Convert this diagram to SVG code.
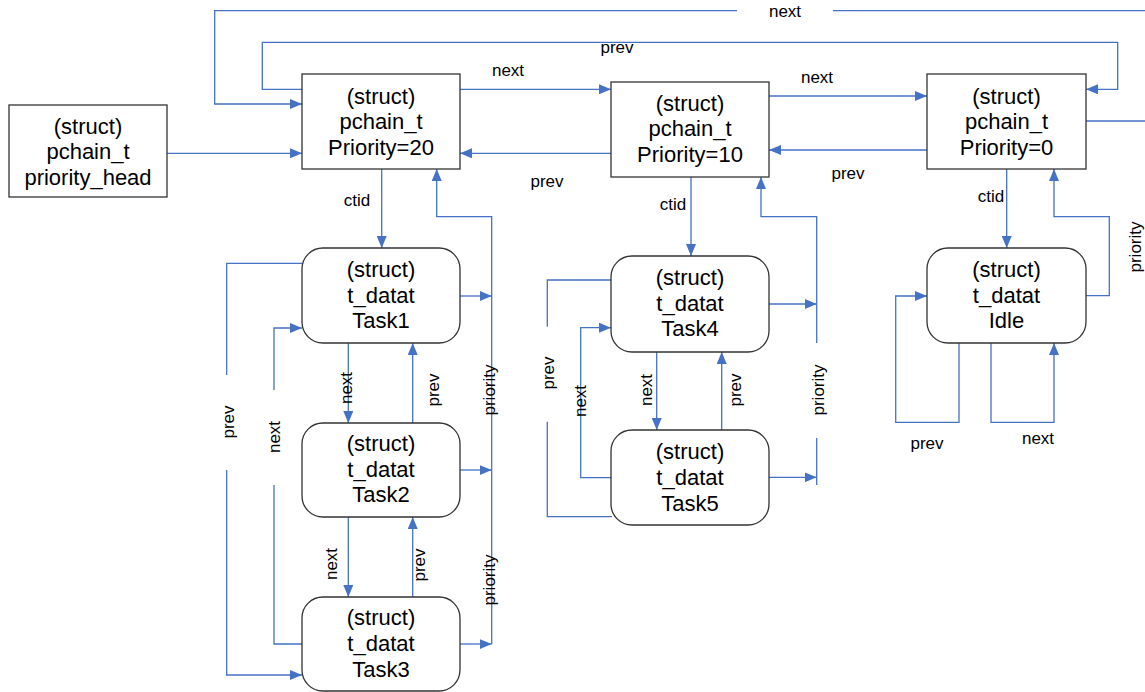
<svg xmlns="http://www.w3.org/2000/svg" width="1145" height="692" viewBox="0 0 1145 692">
<style>
.box{fill:#fff;stroke:#333;stroke-width:1.3}
.t{font-family:"Liberation Sans",Arial,sans-serif;font-size:22px;fill:#000;text-anchor:middle}
.c{fill:none;stroke:#4472C4;stroke-width:1.3}
.a{marker-end:url(#ah)}
.l{font-family:"Liberation Sans",Arial,sans-serif;font-size:17px;fill:#000;text-anchor:middle}
</style>
<defs>
<marker id="ah" markerUnits="userSpaceOnUse" markerWidth="12" markerHeight="10" refX="12" refY="5" orient="auto">
<path d="M0,0 L12,5 L0,10 z" fill="#4472C4"/>
</marker>
</defs>
<g id="connectors">
<path class="c" d="M1086,121 H1145"/>
<path class="c" d="M1145,10.7 H833"/>
<path class="c a" d="M737,10.7 H214.7 V104 H302"/>
<path class="c a" d="M302,89.3 H262.3 V42.3 H1117.7 V89.3 H1086"/>
<path class="c a" d="M460,89.3 H611"/>
<path class="c a" d="M611,153.3 H460"/>
<path class="c a" d="M769,96 H927"/>
<path class="c a" d="M927,150 H769"/>
<path class="c a" d="M167,153.3 H302"/>
<path class="c a" d="M381.7,169 V248"/>
<path class="c a" d="M460,296 H491.7"/>
<path class="c a" d="M460,470 H491.7"/>
<path class="c a" d="M460,644 H491.7"/>
<path class="c a" d="M491.7,644 V216.7 H436.7 V169"/>
<path class="c a" d="M348.3,343 V423"/>
<path class="c a" d="M348.3,517 V597"/>
<path class="c a" d="M412.7,423 V343"/>
<path class="c a" d="M412.7,597 V517"/>
<path class="c" d="M302,263.3 H226.7 V375"/>
<path class="c a" d="M226.7,470 V675 H302"/>
<path class="c" d="M302,644 H274 V485"/>
<path class="c a" d="M274,390 V328 H302"/>
<path class="c a" d="M691,177 V256"/>
<path class="c a" d="M769,304 H816.7"/>
<path class="c a" d="M769,477.3 H816.7"/>
<path class="c" d="M816.7,485 V438"/>
<path class="c a" d="M816.7,343 V216.7 H761 V177"/>
<path class="c a" d="M656.7,352 V430"/>
<path class="c a" d="M721.7,430 V352"/>
<path class="c" d="M611,280 H547.3 V326.7"/>
<path class="c" d="M547.3,421.7 V516.7 H612"/>
<path class="c a" d="M611,477.7 H580.7 V327.7 H611"/>
<path class="c a" d="M1006.7,169 V248"/>
<path class="c a" d="M1086,295.7 H1109.3 V216.7 H1054 V169"/>
<path class="c a" d="M959,343 V422.3 H895.7 V296 H927"/>
<path class="c a" d="M991,343 V422.3 H1054 V343"/>
</g>
<g id="labels">
<text class="l" x="785" y="17">next</text>
<text class="l" x="617" y="53">prev</text>
<text class="l" x="508" y="76">next</text>
<text class="l" x="547" y="187">prev</text>
<text class="l" x="817" y="83">next</text>
<text class="l" x="848" y="179">prev</text>
<text class="l" x="357" y="206">ctid</text>
<text class="l" x="673" y="210">ctid</text>
<text class="l" x="991" y="202">ctid</text>
<text class="l" transform="translate(346,388) rotate(-90)" y="6">next</text>
<text class="l" transform="translate(433,390) rotate(-90)" y="6">prev</text>
<text class="l" transform="translate(331,564) rotate(-90)" y="6">next</text>
<text class="l" transform="translate(419,565) rotate(-90)" y="6">prev</text>
<text class="l" transform="translate(489,390) rotate(-90)" y="6">priority</text>
<text class="l" transform="translate(489,580) rotate(-90)" y="6">priority</text>
<text class="l" transform="translate(228,422) rotate(-90)" y="6">prev</text>
<text class="l" transform="translate(274,437) rotate(-90)" y="6">next</text>
<text class="l" transform="translate(646,390) rotate(-90)" y="6">next</text>
<text class="l" transform="translate(735,390) rotate(-90)" y="6">prev</text>
<text class="l" transform="translate(818,390) rotate(-90)" y="6">priority</text>
<text class="l" transform="translate(548,373) rotate(-90)" y="6">prev</text>
<text class="l" transform="translate(580,401) rotate(-90)" y="6">next</text>
<text class="l" transform="translate(1135,247) rotate(-90)" y="6">priority</text>
<text class="l" x="927" y="449">prev</text>
<text class="l" x="1038" y="444">next</text>
</g>
<g id="priority_head">
<rect class="box" x="9" y="105" width="158" height="92"/>
<text class="t" x="88" y="134">(struct)</text>
<text class="t" x="88" y="159">pchain_t</text>
<text class="t" x="88" y="185">priority_head</text>
</g>
<g id="p20">
<rect class="box" x="302" y="74" width="158" height="95"/>
<text class="t" x="381" y="104">(struct)</text>
<text class="t" x="381" y="129">pchain_t</text>
<text class="t" x="381" y="155">Priority=20</text>
</g>
<g id="p10">
<rect class="box" x="611" y="82" width="158" height="95"/>
<text class="t" x="690" y="111">(struct)</text>
<text class="t" x="690" y="136">pchain_t</text>
<text class="t" x="690" y="162">Priority=10</text>
</g>
<g id="p0">
<rect class="box" x="927" y="74" width="159" height="95"/>
<text class="t" x="1006.5" y="104">(struct)</text>
<text class="t" x="1006.5" y="129">pchain_t</text>
<text class="t" x="1006.5" y="155">Priority=0</text>
</g>
<g id="task1">
<rect class="box" x="302" y="248" width="158" height="95" rx="21"/>
<text class="t" x="381" y="277">(struct)</text>
<text class="t" x="381" y="303">t_datat</text>
<text class="t" x="381" y="328">Task1</text>
</g>
<g id="task2">
<rect class="box" x="302" y="423" width="158" height="94" rx="21"/>
<text class="t" x="381" y="451">(struct)</text>
<text class="t" x="381" y="477">t_datat</text>
<text class="t" x="381" y="502">Task2</text>
</g>
<g id="task3">
<rect class="box" x="302" y="597" width="158" height="94" rx="21"/>
<text class="t" x="381" y="625">(struct)</text>
<text class="t" x="381" y="651">t_datat</text>
<text class="t" x="381" y="677">Task3</text>
</g>
<g id="task4">
<rect class="box" x="611" y="256" width="158" height="96" rx="21"/>
<text class="t" x="690" y="285">(struct)</text>
<text class="t" x="690" y="311">t_datat</text>
<text class="t" x="690" y="336">Task4</text>
</g>
<g id="task5">
<rect class="box" x="611" y="430" width="158" height="95" rx="21"/>
<text class="t" x="690" y="459">(struct)</text>
<text class="t" x="690" y="485">t_datat</text>
<text class="t" x="690" y="511">Task5</text>
</g>
<g id="idle">
<rect class="box" x="927" y="248" width="159" height="95" rx="21"/>
<text class="t" x="1006.5" y="277">(struct)</text>
<text class="t" x="1006.5" y="303">t_datat</text>
<text class="t" x="1006.5" y="328">Idle</text>
</g>
</svg>
